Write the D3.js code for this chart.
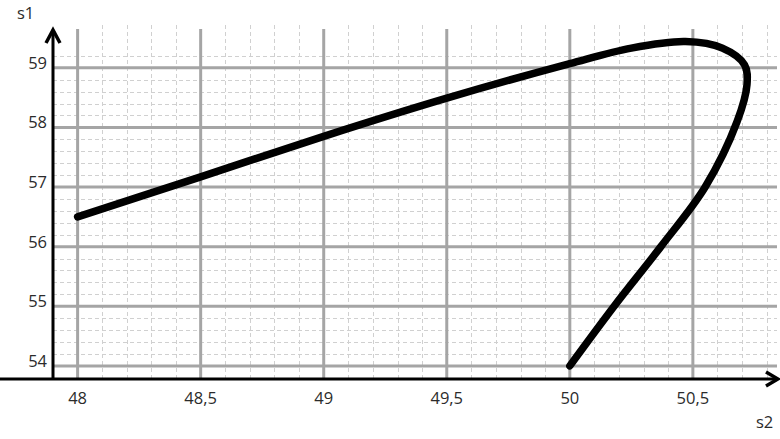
<!DOCTYPE html>
<html>
<head>
<meta charset="utf-8">
<script src="https://cdn.jsdelivr.net/npm/d3@7"></script>
<style>
  html, body { margin: 0; padding: 0; background: #fff; }
  svg { display: block; }
  text { font-family: "Open Sans", "Noto Sans", sans-serif; fill: #2b2b2b; }
</style>
</head>
<body>
<svg id="chart" width="780" height="439"></svg>
<script>
// ---- data ----
const s2Values = [48.0, 48.5, 49.0, 49.5, 50.0, 50.25, 50.47, 50.62, 50.71, 50.72, 50.68, 50.55, 50.37, 50.18, 50.0];
const s1Values = [56.5, 57.17, 57.85, 58.49, 59.07, 59.33, 59.44, 59.33, 59.05, 58.72, 58.1, 57.0, 56.0, 55.0, 54.0];
const xTickValues = [48, 48.5, 49, 49.5, 50, 50.5];
const xTickLabels = ["48", "48,5", "49", "49,5", "50", "50,5"];
const yTickValues = [54, 55, 56, 57, 58, 59];
const yTickLabels = ["54", "55", "56", "57", "58", "59"];
const xMinorValues = d3.range(48.1, 50.85, 0.1).map(v => +v.toFixed(1)).filter(v => Math.abs(v * 2 - Math.round(v * 2)) > 1e-6);
const yMinorValues = d3.range(53.8, 59.3, 0.2).map(v => +v.toFixed(1)).filter(v => Math.abs(v - Math.round(v)) > 1e-6);
const xAxisTitle = "s2";
const yAxisTitle = "s1";

// ---- layout ----
const svg = d3.select("#chart");
const x = d3.scaleLinear().domain([47.9, 50.85]).range([53, 779]);
const y = d3.scaleLinear().domain([53.78, 59.65]).range([379, 29]);
const gridTop = 29, gridBottom = 379, gridLeft = 53, gridRight = 777;

// minor grid
const minor = svg.append("g")
  .attr("stroke", "#d0d0d0").attr("stroke-width", 1).attr("stroke-dasharray", "4,3");
minor.selectAll("line.vx").data(xMinorValues).enter().append("line")
  .attr("x1", d => Math.round(x(d)) + 0.5).attr("x2", d => Math.round(x(d)) + 0.5)
  .attr("y1", gridTop - 4).attr("y2", gridBottom);
minor.selectAll("line.hy").data(yMinorValues).enter().append("line")
  .attr("y1", d => Math.round(y(d)) + 0.5).attr("y2", d => Math.round(y(d)) + 0.5)
  .attr("x1", gridLeft).attr("x2", gridRight);

// major grid
const major = svg.append("g").attr("stroke", "#a5a5a5").attr("stroke-width", 3);
major.selectAll("line.vx").data(xTickValues).enter().append("line")
  .attr("x1", d => x(d)).attr("x2", d => x(d))
  .attr("y1", gridTop).attr("y2", gridBottom);
major.selectAll("line.hy").data(yTickValues).enter().append("line")
  .attr("y1", d => y(d)).attr("y2", d => y(d))
  .attr("x1", gridLeft).attr("x2", gridRight);

// axes
const axes = svg.append("g").attr("stroke", "#000").attr("fill", "none");
axes.append("line").attr("x1", 0).attr("x2", 778).attr("y1", 379).attr("y2", 379).attr("stroke-width", 3);
axes.append("line").attr("x1", 53).attr("x2", 53).attr("y1", 380).attr("y2", 31).attr("stroke-width", 3);
axes.append("path").attr("d", "M46,43 L53,30 L60,43").attr("stroke-width", 3.5).attr("stroke-linejoin", "miter");
axes.append("path").attr("d", "M766,372 L778,379 L766,386").attr("stroke-width", 3.5).attr("stroke-linejoin", "miter");

// tick labels
svg.append("g").selectAll("text").data(xTickValues).enter().append("text")
  .attr("x", d => x(d)).attr("y", 404).attr("text-anchor", "middle")
  .attr("font-size", 16.5).text((d, i) => xTickLabels[i]);
svg.append("g").selectAll("text").data(yTickValues).enter().append("text")
  .attr("x", 47).attr("y", d => y(d) + 1).attr("text-anchor", "end")
  .attr("font-size", 16.5).text((d, i) => yTickLabels[i]);

// axis titles
svg.append("text").attr("x", 17).attr("y", 19).attr("font-size", 16.5).text(yAxisTitle);
svg.append("text").attr("x", 756).attr("y", 428).attr("font-size", 16.5).text(xAxisTitle);

// curve
const pts = s2Values.map((v, i) => [v, s1Values[i]]);
const line = d3.line().x(d => x(d[0])).y(d => y(d[1])).curve(d3.curveCatmullRom.alpha(0.5));
svg.append("path").datum(pts).attr("d", line)
  .attr("fill", "none").attr("stroke", "#000").attr("stroke-width", 7.5)
  .attr("stroke-linecap", "round").attr("stroke-linejoin", "round");
</script>
</body>
</html>
